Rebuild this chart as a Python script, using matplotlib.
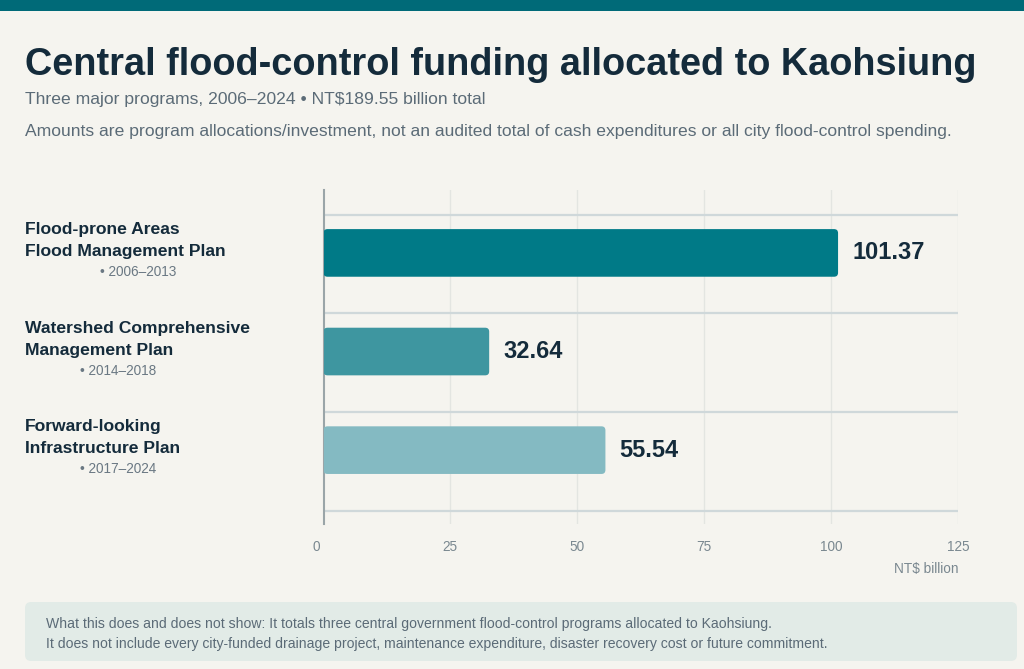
import matplotlib
matplotlib.use("Agg")
import matplotlib.pyplot as plt
from matplotlib.patches import FancyBboxPatch, Rectangle
from matplotlib.transforms import ScaledTranslation

# ---- data ----
programs_line1 = ["Flood-prone Areas", "Watershed Comprehensive", "Forward-looking"]
programs_line2 = ["Flood Management Plan", "Management Plan", "Infrastructure Plan"]
periods = ["• 2006–2013", "• 2014–2018", "• 2017–2024"]
values = [101.37, 32.64, 55.54]
bar_colors = ["#007a87", "#3e96a0", "#84bac2"]
x_ticks = [0, 25, 50, 75, 100, 125]
x_tick_labels = ["0", "25", "50", "75", "100", "125"]

title = "Central flood-control funding allocated to Kaohsiung"
subtitle = "Three major programs, 2006–2024 • NT$189.55 billion total"
note = ("Amounts are program allocations/investment, not an audited total of cash "
        "expenditures or all city flood-control spending.")
footer1 = ("What this does and does not show: It totals three central government "
           "flood-control programs allocated to Kaohsiung.")
footer2 = ("It does not include every city-funded drainage project, maintenance "
           "expenditure, disaster recovery cost or future commitment.")
x_unit = "NT$ billion"

W, H = 1024, 669
BG = "#f5f4ef"
DARK = "#142b3b"
GREY = "#5b6b77"
FONT = "Liberation Sans"

plt.rcParams["font.family"] = [FONT, "DejaVu Sans"]
fig = plt.figure(figsize=(W / 100, H / 100), dpi=100)
fig.patch.set_facecolor(BG)

def fx(px):
    return px / W

def fy(py):
    return 1 - py / H

# top band
fig.patches.append(Rectangle((0, fy(11)), 1, 11 / H, transform=fig.transFigure,
                             facecolor="#006a78", edgecolor="none", zorder=0))

fig.text(fx(25), fy(75), title, fontsize=27.3, fontweight="bold", color=DARK,
         va="baseline", ha="left")
fig.text(fx(25), fy(104), subtitle, fontsize=12.6, color=GREY, va="baseline", ha="left")
fig.text(fx(25), fy(136), note, fontsize=12.6, color=GREY, va="baseline", ha="left")

# axes
ax_l, ax_r, ax_t, ax_b = 323.5, 958, 190, 524
ax = fig.add_axes([fx(ax_l), fy(ax_b), (ax_r - ax_l) / W, (ax_b - ax_t) / H])
ax.set_facecolor("none")
ax.set_xlim(0, 125)
ax.set_ylim(2.749, -0.638)
for s in ["top", "right", "bottom"]:
    ax.spines[s].set_visible(False)
ax.spines["left"].set_color("#9aa5a8")
ax.spines["left"].set_linewidth(1.5)
ax.set_yticks([])
ax.set_xticks(x_ticks)
ax.set_xticklabels(x_tick_labels)
ax.tick_params(axis="x", length=0, pad=11.5, labelsize=9.8, labelcolor="#7a8890")
first = ax.get_xticklabels()[0]
first.set_transform(first.get_transform() + ScaledTranslation(-7 / 100, 0, fig.dpi_scale_trans))
for t in x_ticks[1:]:
    ax.axvline(t, color="#e3e5e1", lw=1.0, zorder=0)
n = len(values)
for i in range(n + 1):
    ax.axhline(i - 0.386, color="#cfd8da", lw=1.6, zorder=1)

bar_h = 0.483
px_per_x = (ax_r - ax_l) / 125
px_per_y = (ax_b - ax_t) / (2.749 + 0.638)
r_px = 4
rx = r_px / px_per_x
ry = r_px / px_per_y
for i, (v, c) in enumerate(zip(values, bar_colors)):
    patch = FancyBboxPatch((0, i - bar_h / 2), v, bar_h,
                           boxstyle=f"round,pad=0,rounding_size={rx}",
                           mutation_aspect=ry / rx,
                           facecolor=c, edgecolor="none", zorder=3)
    ax.add_patch(patch)
    ax.annotate(f"{v:.2f}", (v, i), xytext=(14, 0), textcoords="offset pixels",
                fontsize=17, fontweight="bold", color=DARK, va="center", ha="left")

fig.text(fx(958), fy(569), x_unit, fontsize=9.8, color="#7a8890", ha="right", va="center")

# category labels
centers_px = [252.8, 351.3, 449.7]
period_x = [100, 80, 80]
for i in range(n):
    cy = centers_px[i]
    fig.text(fx(25), fy(cy - 18.8), programs_line1[i], fontsize=12.6, fontweight="bold",
             color=DARK, ha="left", va="baseline")
    fig.text(fx(25), fy(cy + 3.2), programs_line2[i], fontsize=12.6, fontweight="bold",
             color=DARK, ha="left", va="baseline")
    fig.text(fx(period_x[i]), fy(cy + 23.5), periods[i], fontsize=9.8,
             color="#6a7883", ha="left", va="baseline")

# footer box
box = FancyBboxPatch((fx(25), fy(661)), fx(1017 - 25), (661 - 602) / H,
                     boxstyle="round,pad=0,rounding_size=0.006",
                     mutation_aspect=W / H,
                     transform=fig.transFigure, facecolor="#e2ebe7",
                     edgecolor="none", zorder=0)
fig.patches.append(box)
fig.text(fx(46), fy(628), footer1, fontsize=10.05, color=GREY, ha="left", va="baseline")
fig.text(fx(46), fy(648), footer2, fontsize=10.05, color=GREY, ha="left", va="baseline")

fig.savefig("out.png", dpi=100, facecolor=BG)
